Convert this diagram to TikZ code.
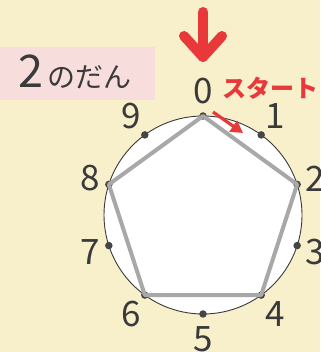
\documentclass[tikz,border=0pt]{standalone}
\usepackage{fontspec}
\setmainfont{Noto Sans CJK JP}
\usetikzlibrary{arrows.meta,positioning,calc}
\definecolor{cPaper}{HTML}{F8EFCB}
\definecolor{cPink}{HTML}{F7DEDD}
\definecolor{cRed}{HTML}{E8383A}
\definecolor{cInk}{HTML}{3A3A3A}
\definecolor{cDot}{HTML}{454545}
\definecolor{cLine}{HTML}{A8A8A8}
\tikzset{
  dot/.style={circle, fill=cDot, inner sep=0pt, minimum size=7.5pt},
  digit/.style={inner sep=0pt, text=cInk, font=\fontsize{35}{35}\selectfont},
  twoline/.style={draw=cLine, line width=4pt, line join=round},
  bigdown/.style={draw=cRed, line width=10pt, line cap=round, line join=round},
  startarrow/.style={-{Triangle[length=12pt, width=13pt]}, draw=cRed, line width=3.2pt},
}

\begin{document}
\begin{tikzpicture}[x=1pt, y=1pt]
  % page
  \fill[cPaper] (0,0) rectangle (320,352);
  \useasboundingbox (0,0) rectangle (320,352);
  \fill[cPink] (0,252) rectangle (155,305);
  % title
  \node[anchor=base west, inner sep=0pt, text=cInk] (title) at (18,264)
    {\fontsize{45}{45}\selectfont 2\hspace{4pt}\fontsize{28}{28}\selectfont のだん};
  % dial
  \coordinate (c) at (203,137);
  \draw[cInk, line width=0.9pt, fill=white] (c) circle[radius=99];
  \foreach \k in {0,...,9}{
    \node[dot] (p\k) at ($(c)+({90-36*\k}:99)$) {};
    \node[digit] (l\k) at ($(c)+({90-36*\k}:{116+8*abs(sin(90-36*\k))})$) {\k};
  }
  % 0 -> 2 -> 4 -> 6 -> 8 -> 0
  \draw[twoline] (p0.center) -- (p2.center) -- (p4.center) -- (p6.center) -- (p8.center) -- cycle;
  % start marks
  \coordinate (dtop) at (203,340);
  \coordinate (dtip) at (203,295);
  \draw[bigdown] (dtop) -- (dtip);
  \draw[bigdown] ($(dtip)+(-19,21)$) -- (dtip) -- ($(dtip)+(19,21)$);
  \node[font=\fontsize{24}{24}\selectfont\bfseries, text=cRed, inner sep=0pt] (start) at (270,264) {スタート};
  \coordinate (s0) at (213,240);
  \coordinate (s1) at (243,219);
  \draw[startarrow] (s0) -- (s1);
\end{tikzpicture}
\end{document}
